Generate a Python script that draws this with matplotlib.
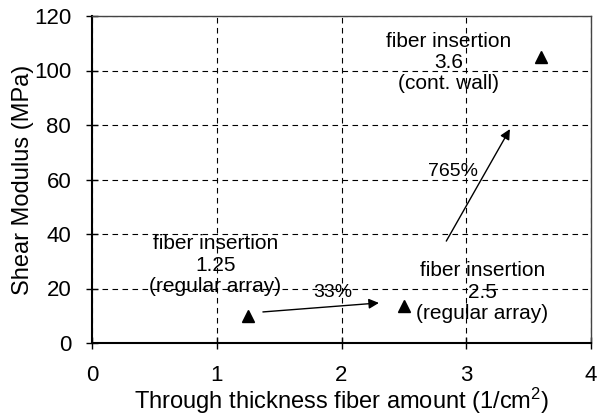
import matplotlib
matplotlib.use('Agg')
import matplotlib.pyplot as plt

plt.rcParams['font.family'] = ['Liberation Sans', 'DejaVu Sans']
plt.rcParams['mathtext.default'] = 'regular'

# data
fiber_amount = [1.25, 2.5, 3.6]
shear_modulus = [10, 13.6, 105]

labels = ['fiber insertion\n1.25\n(regular array)',
          'fiber insertion\n2.5\n(regular array)',
          'fiber insertion\n3.6\n(cont. wall)']
label_xy = [(0.99, 28.6), (3.13, 18.7), (2.86, 103)]

arrows = [((1.37, 11.4), (2.30, 14.7)), ((2.84, 37.4), (3.35, 78.5))]
pct_text = ['33%', '765%']
pct_xy = [(1.93, 18.7), (2.89, 63)]

fig = plt.figure(figsize=(5.97, 4.17), dpi=100)
ax = fig.add_axes([92/597, 74/417, 499/597, 327/417])

ax.plot(fiber_amount, shear_modulus, '^', color='black', markersize=8, zorder=5)

for t, (x, y) in zip(labels, label_xy):
    ax.text(x, y, t, ha='center', va='center', fontsize=15, linespacing=1.15)

for (s, e) in arrows:
    ax.annotate('', xy=e, xytext=s,
                arrowprops=dict(arrowstyle='-|>', color='black', lw=1,
                                mutation_scale=15, shrinkA=0, shrinkB=0))

for t, (x, y) in zip(pct_text, pct_xy):
    ax.text(x, y, t, ha='center', va='center', fontsize=14)

ax.set_xlim(0, 4)
ax.set_ylim(0, 120)
ax.set_xticks([0, 1, 2, 3, 4])
ax.set_yticks(range(0, 121, 20))
ax.grid(True, color='black', linestyle=(0, (5, 4)), linewidth=0.8)
ax.tick_params(direction='inout', length=8, width=1, labelsize=16)
ax.tick_params(axis='x', pad=12)
ax.tick_params(axis='y', pad=11)
for sp in ['left', 'bottom']:
    ax.spines[sp].set_linewidth(1.5)
for sp in ['top', 'right']:
    ax.spines[sp].set_linewidth(1)
    ax.spines[sp].set_color('#444444')

ax.set_xlabel('Through thickness fiber amount (1/cm$^2$)', fontsize=17, labelpad=0)
ax.set_ylabel('Shear Modulus (MPa)', fontsize=17, labelpad=0)

fig.savefig('out.png', dpi=100)
